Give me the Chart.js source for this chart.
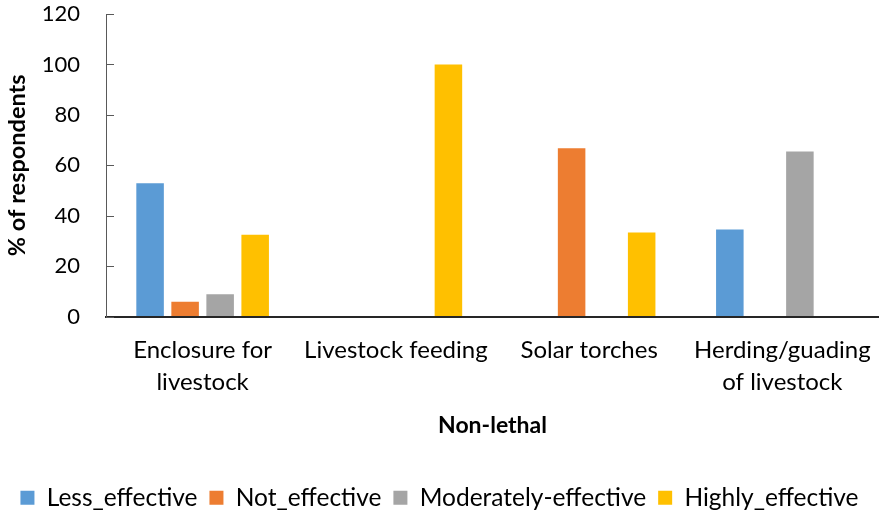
<!DOCTYPE html>
<html>
<head>
<meta charset="utf-8">
<script src="https://cdn.jsdelivr.net/npm/chart.js@4.4.1/dist/chart.umd.min.js"></script>
<style>
  html, body { margin: 0; padding: 0; background: #ffffff; }
  #wrap { width: 879px; height: 511px; }
</style>
</head>
<body>
<div id="wrap"><canvas id="chart" width="879" height="511"></canvas></div>
<script>
// Non-lethal methods and how respondents rated them (% of respondents)
const categories = [
  ["Enclosure for", "livestock"],
  "Livestock feeding",
  "Solar torches",
  ["Herding/guading", "of livestock"]
];
const seriesNames = ["Less_effective", "Not_effective", "Moderately-effective", "Highly_effective"];
const lessEffective       = [52.9, null, null, 34.5];
const notEffective        = [5.9, null, 66.7, null];
const moderatelyEffective = [8.8, null, null, 65.5];
const highlyEffective     = [32.4, 100, 33.3, null];
const yTicks = [0, 20, 40, 60, 80, 100, 120];

const colors = ["#5B9BD5", "#ED7D31", "#A5A5A5", "#FFC000"];
const values = [lessEffective, notEffective, moderatelyEffective, highlyEffective];
const FONT = "Lato, 'Open Sans', sans-serif";
const AXIS = "#595959";

// Short tick marks pointing into the plot from the value axis
const innerTicks = {
  id: "innerTicks",
  afterDraw(chart) {
    const y = chart.scales.y;
    const ctx = chart.ctx;
    const x0 = chart.chartArea.left;
    ctx.save();
    ctx.strokeStyle = AXIS;
    ctx.lineWidth = 1;
    y.ticks.forEach((t, i) => {
      const py = Math.round(y.getPixelForTick(i)) + 0.5;
      ctx.beginPath();
      ctx.moveTo(x0, py);
      ctx.lineTo(x0 + 8, py);
      ctx.stroke();
    });
    ctx.restore();
  }
};

new Chart(document.getElementById("chart"), {
  type: "bar",
  data: {
    labels: categories,
    datasets: seriesNames.map((name, i) => ({
      label: name,
      data: values[i],
      backgroundColor: colors[i],
      borderWidth: 0,
      categoryPercentage: 0.725,
      barPercentage: 0.786
    }))
  },
  options: {
    responsive: false,
    animation: false,
    devicePixelRatio: 1,
    layout: { padding: { top: 14, right: 0, left: 0, bottom: -9 } },
    plugins: {
      tooltip: { enabled: false },
      legend: {
        position: "bottom",
        labels: {
          font: { family: FONT, size: 24.5 },
          color: "#000000",
          boxWidth: 14,
          boxHeight: 14,
          padding: 12
        }
      }
    },
    scales: {
      x: {
        // transparent tick marks only push the labels down from the axis
        grid: { display: true, drawOnChartArea: false, drawTicks: true, tickLength: 18, tickColor: "rgba(0,0,0,0)" },
        border: { display: true, color: "#262626", width: 2 },
        ticks: {
          font: { family: FONT, size: 24, lineHeight: 1.333 },
          color: "#000000",
          padding: 0,
          maxRotation: 0,
          autoSkip: false
        },
        title: {
          display: true,
          text: "Non-lethal",
          font: { family: FONT, size: 23, weight: "bold" },
          color: "#000000",
          padding: { top: 0, bottom: 34 }
        },
        afterFit(scale) { scale.height = 157; }
      },
      y: {
        min: 0,
        max: 120,
        afterBuildTicks(scale) { scale.ticks = yTicks.map(v => ({ value: v })); },
        grid: { display: true, drawOnChartArea: false, drawTicks: true, tickLength: 26, tickColor: "rgba(0,0,0,0)" },
        border: { display: true, color: AXIS, width: 1 },
        ticks: {
          font: { family: FONT, size: 22 },
          color: "#000000",
          padding: 0
        },
        title: {
          display: true,
          text: "% of respondents",
          font: { family: FONT, size: 23.5, weight: "bold" },
          color: "#000000",
          padding: { top: 3, bottom: 0 }
        },
        afterFit(scale) { scale.width = 106; }
      }
    }
  },
  plugins: [innerTicks]
});
</script>
</body>
</html>
